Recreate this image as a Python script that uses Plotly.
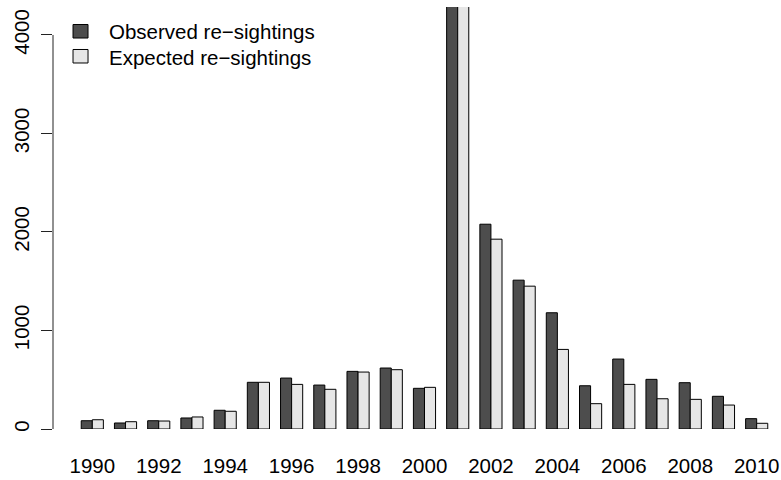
import plotly.graph_objects as go

years = list(range(1990, 2011))
observed = [84, 61, 84, 112, 190, 474, 517, 446, 585, 619, 413,
            4600, 2079, 1511, 1180, 439, 710, 504, 470, 332, 105]
expected = [94, 74, 81, 122, 180, 474, 453, 403, 578, 602, 423,
            4500, 1927, 1450, 808, 257, 453, 307, 301, 243, 58]
series_names = ["Observed re\u2212sightings", "Expected re\u2212sightings"]
series_colors = ["#4D4D4D", "#E6E6E6"]
tick_years = list(range(1990, 2011, 2))
y_ticks = [0, 1000, 2000, 3000, 4000]

FONT = "Liberation Sans, Arial, sans-serif"
FS = 20.5

fig = go.Figure()
for vals, name, col in zip([observed, expected], series_names, series_colors):
    fig.add_bar(x=years, y=vals, name=name,
                marker=dict(color=col, line=dict(color="#000000", width=1)))

fig.update_layout(
    width=781, height=480,
    margin=dict(l=53, r=0, t=7, b=51),
    paper_bgcolor="white", plot_bgcolor="white",
    barmode="group", bargap=1/3, bargroupgap=0,
    font=dict(family=FONT, size=FS, color="#000000"),
    showlegend=False,
)
fig.update_xaxes(range=[1988.817, 2010.732], tickvals=tick_years,
                 ticktext=[str(y) for y in tick_years],
                 showline=False, showgrid=False, zeroline=False, ticks="",
                 ticklabelstandoff=22, tickfont=dict(size=FS), automargin=False)
fig.update_yaxes(range=[0, 4284], tickvals=y_ticks,
                 ticktext=[str(v) for v in y_ticks],
                 showline=False, showgrid=False, zeroline=False,
                 ticks="outside", ticklen=11, tickwidth=1, tickcolor="#222222",
                 tickangle=-90, tickfont=dict(size=FS), ticklabelstandoff=4,
                 automargin=False)
# axis line spanning only the tick range, as in base R
fig.add_shape(type="line", xref="paper", yref="y", x0=0, x1=0,
              y0=y_ticks[0], y1=y_ticks[-1],
              line=dict(color="#222222", width=1))

# legend in base-R style (top-left, filled squares)
leg_x0, leg_x1, leg_tx = 0.0275, 0.0481, 0.0742
leg_rows = [(0.9265, 0.9585, 0.9408), (0.8673, 0.8993, 0.8815)]
for (y0, y1, ty), name, col in zip(leg_rows, series_names, series_colors):
    fig.add_shape(type="rect", xref="paper", yref="paper",
                  x0=leg_x0, x1=leg_x1, y0=y0, y1=y1,
                  fillcolor=col, line=dict(color="#000000", width=1))
    fig.add_annotation(xref="paper", yref="paper", x=leg_tx, y=ty,
                       text=name, showarrow=False, xanchor="left",
                       yanchor="middle", font=dict(size=FS, color="#000000"))

fig.write_html("out.html")
